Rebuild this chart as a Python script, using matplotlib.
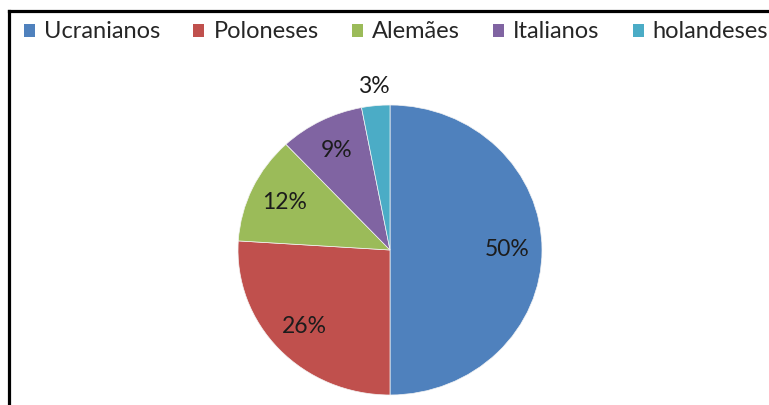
import matplotlib
matplotlib.use("Agg")
import matplotlib.pyplot as plt
from matplotlib.lines import Line2D
from matplotlib.patches import Rectangle
from matplotlib.font_manager import FontProperties
from matplotlib.textpath import TextPath
import numpy as np

categories = ["Ucranianos", "Poloneses", "Alemães", "Italianos", "holandeses"]
values = [50, 26, 12, 9, 3]
colors = ["#4F81BD", "#C0504D", "#9BBB59", "#8064A2", "#4BACC6"]

FAMILY = ['Lato', 'DejaVu Sans']
plt.rcParams['font.family'] = FAMILY

W, H = 769, 405
DPI = 100
fig = plt.figure(figsize=(W / DPI, H / DPI), dpi=DPI)

# choose the font size so the legend labels span about the reference width (px)
target_total = 500.0
fp = FontProperties(family=FAMILY, size=10)
w10 = sum(TextPath((0, 0), s, prop=fp).get_extents().width for s in categories)
w10_px = w10 * DPI / 72
FS = 10 * target_total / w10_px
px = lambda p: p / (FS * DPI / 72)  # px -> font-size units

# pie axes: centre (390, 250) px from top, rx=152, ry=145
rx, ry = 152, 145
cx, cy = 390, H - 250
lim = 1.25
ax = fig.add_axes([(cx - lim * rx) / W, (cy - lim * ry) / H, 2 * lim * rx / W, 2 * lim * ry / H])

wedges, texts, autotexts = ax.pie(
    values, colors=colors, startangle=90, counterclock=False,
    autopct=lambda p: f"{p:.0f}%", pctdistance=0.77,
    wedgeprops=dict(linewidth=0.5, edgecolor="#f4f4f4"),
    textprops=dict(fontsize=16.5, color="#1c1c1c"))
ax.set_aspect('auto')
ax.set_xlim(-lim, lim)
ax.set_ylim(-lim, lim)

# small slice label sits outside the pie
w = wedges[-1]
ang = np.deg2rad((w.theta1 + w.theta2) / 2)
autotexts[-1].set_position((1.13 * np.cos(ang), 1.13 * np.sin(ang)))

handles = [Rectangle((0, 0), 1, 1, facecolor=c) for c in colors]
x0, x1 = 24, 768
fig.legend(handles, categories, loc="center left",
           bbox_to_anchor=(x0 / W, 1 - 44 / H, (x1 - x0) / W, 24 / H), mode="expand",
           ncol=5, frameon=False, fontsize=FS, handlelength=px(11), handleheight=px(11),
           handletextpad=px(9), columnspacing=px(20), borderaxespad=0, borderpad=0,
           labelcolor="#262626")

# frame border (continues beyond the image on the right and bottom)
lw = 3.2 * 72 / DPI
fig.add_artist(Line2D([8.8 / W, 8.8 / W], [0, 1 - 11.3 / H], transform=fig.transFigure,
                      color="black", linewidth=lw, solid_capstyle="projecting"))
fig.add_artist(Line2D([8.8 / W, 1], [1 - 11.3 / H, 1 - 11.3 / H], transform=fig.transFigure,
                      color="black", linewidth=lw, solid_capstyle="projecting"))

fig.savefig("out.png", dpi=DPI)
